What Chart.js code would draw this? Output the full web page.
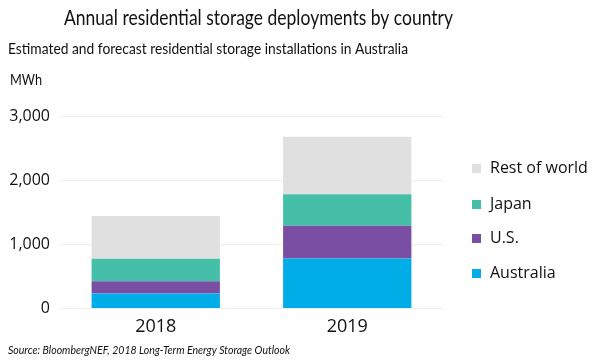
<!DOCTYPE html>
<html><head><meta charset="utf-8">
<script src="https://cdn.jsdelivr.net/npm/chart.js@4"></script>
<style>html,body{margin:0;padding:0;background:#fff}#wrap{width:600px;height:360px}</style>
</head><body><div id="wrap"><canvas id="c" width="600" height="360"></canvas></div>
<script>
const categories = ["2018", "2019"];
const australia = [232, 780];
const us = [190, 510];
const japan = [352, 490];
const restOfWorld = [666, 897];
const yTicks = [0, 1000, 2000, 3000];
const seriesLabels = ["Australia", "U.S.", "Japan", "Rest of world"];
const colors = ["#00ade6", "#7a4fa3", "#45bfa8", "#e0e0e0"];

const titleText = "Annual residential storage deployments by country";
const subtitleText = "Estimated and forecast residential storage installations in Australia";
const unitText = "MWh";
const sourceText = "Source: BloombergNEF, 2018 Long-Term Energy Storage Outlook";

const FONT = "'Open Sans', 'Noto Sans', sans-serif";
const TFONT = "Lato, 'Open Sans', sans-serif";

function fitText(ctx, txt, style, size, family, targetW) {
  ctx.font = style + size + "px " + family;
  const w = ctx.measureText(txt).width;
  return targetW / w;
}

const textPlugin = {
  id: 'texts',
  afterDraw(chart) {
    const ctx = chart.ctx;
    ctx.save();
    ctx.fillStyle = '#111';
    ctx.textBaseline = 'middle';
    function drawFit(txt, style, size, family, x, y, targetW) {
      const sx = fitText(ctx, txt, style, size, family, targetW);
      ctx.save();
      ctx.translate(x, y);
      ctx.scale(sx, 1);
      ctx.textAlign = 'left';
      ctx.fillText(txt, 0, 0);
      ctx.restore();
    }
    drawFit(titleText, "", 21, TFONT, 64, 18, 389);
    drawFit(subtitleText, "", 16, TFONT, 8, 49, 400);
    drawFit(unitText, "", 15, TFONT, 10, 80, 32);
    drawFit(sourceText, "italic ", 11, TFONT, 8, 350, 282);
    const ds = chart.data.datasets;
    const ys = [273, 238, 204, 168];
    ctx.textAlign = 'left';
    ctx.font = "16px " + FONT;
    for (let i = 0; i < ds.length; i++) {
      ctx.fillStyle = ds[i].backgroundColor;
      ctx.fillRect(472, ys[i] - 4, 9, 9);
      ctx.fillStyle = '#111';
      ctx.fillText(ds[i].label, 490, ys[i]);
    }
    ctx.restore();
  }
};

const seriesData = [australia, us, japan, restOfWorld];
new Chart(document.getElementById('c'), {
  type: 'bar',
  data: {
    labels: categories,
    datasets: seriesData.map((d, i) => ({
      label: seriesLabels[i],
      data: d,
      backgroundColor: colors[i],
      borderWidth: 0,
      barPercentage: 0.67,
      categoryPercentage: 1.0
    }))
  },
  options: {
    responsive: false,
    animation: false,
    layout: { padding: { top: 116, right: 157, bottom: 22, left: 0 } },
    plugins: { legend: { display: false }, tooltip: { enabled: false } },
    scales: {
      x: {
        stacked: true,
        grid: { display: false },
        border: { display: false },
        ticks: { color: '#111', font: { family: FONT, size: 18 }, padding: 0 }
      },
      y: {
        stacked: true,
        min: 0, max: 3000,
        afterFit(scale) { scale.width = 60; },
        afterBuildTicks(scale) { scale.ticks = yTicks.map(v => ({ value: v })); },
        grid: { color: '#eeeeee', drawTicks: false, lineWidth: 1 },
        border: { display: false },
        ticks: {
          color: '#111', padding: 10,
          font: { family: FONT, size: 16 },
          callback: v => v.toLocaleString('en-US')
        }
      }
    }
  },
  plugins: [textPlugin]
});
</script>
</body></html>
